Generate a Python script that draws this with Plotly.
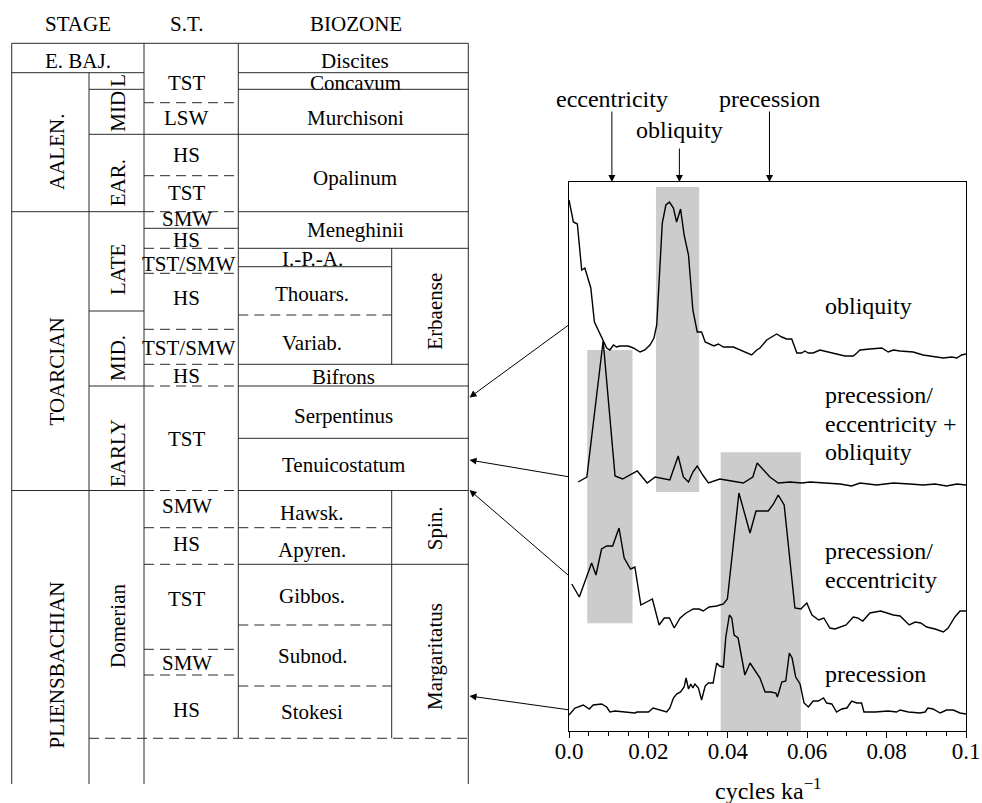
import plotly.graph_objects as go

FONT = "Liberation Serif, Times New Roman, serif"

# ---------------- spectral data (frequency in cycles/ka, relative power) ----------------
f_obl = [0.0000, 0.0011, 0.0021, 0.0032, 0.0040, 0.0055, 0.0064, 0.0074, 0.0086, 0.0095,
         0.0103, 0.0112, 0.0120, 0.0128, 0.0149, 0.0162, 0.0179, 0.0191, 0.0204, 0.0214,
         0.0221, 0.0229, 0.0235, 0.0244, 0.0253, 0.0263, 0.0271, 0.0281, 0.0290, 0.0301,
         0.0312, 0.0323, 0.0334, 0.0343, 0.0353, 0.0365, 0.0376, 0.0389, 0.0414, 0.0435,
         0.0448, 0.0460, 0.0473, 0.0481, 0.0498, 0.0523, 0.0536, 0.0548, 0.0561, 0.0574,
         0.0586, 0.0594, 0.0603, 0.0615, 0.0632, 0.0657, 0.0674, 0.0695, 0.0716, 0.0725,
         0.0733, 0.0758, 0.0788, 0.0804, 0.0817, 0.0834, 0.0867, 0.0892, 0.0914, 0.0930,
         0.0943, 0.0964, 0.0977, 0.0989, 0.1000]
p_obl = [161, 139, 137, 91, 93, 73, 39, 31, 21, 13,
         11, 16, 14, 15, 15, 13, 9, 11, 16, 23,
         36, 91, 138, 156, 159, 153, 139, 152, 126, 106,
         51, 29, 29, 19, 17, 15, 17, 14, 14, 10,
         8, 6, 11, 13, 21, 27, 24, 22, 22, 8,
         8, 10, 8, 8, 11, 9, 7, 5, 5, 8,
         11, 12, 13, 9, 11, 10, 9, 6, 5, 4,
         3, 4, 3, 6, 7]

f_pe_obl = [0.0023, 0.0045, 0.0086, 0.0116, 0.0135, 0.0154, 0.0172, 0.0197, 0.0217, 0.0254,
            0.0275, 0.0288, 0.0301, 0.0312, 0.0323, 0.0337, 0.0351, 0.0380, 0.0439, 0.0463,
            0.0474, 0.0506, 0.0527, 0.0557, 0.0586, 0.0607, 0.0649, 0.0683, 0.0712, 0.0733,
            0.0775, 0.0817, 0.0859, 0.0892, 0.0922, 0.0951, 0.0977, 0.1000]
p_pe_obl = [9, 14, 150, 15, 12, 16, 20, 8, 14, 11,
            35, 14, 9, 19, 25, 16, 8, 12, 8, 14,
            28, 14, 8, 9, 8, 9, 8, 7, 5, 8,
            6, 8, 7, 6, 7, 5, 7, 6]

f_pe = [0.0007, 0.0026, 0.0057, 0.0068, 0.0082, 0.0095, 0.0110, 0.0126, 0.0139, 0.0155,
        0.0166, 0.0181, 0.0210, 0.0227, 0.0240, 0.0253, 0.0265, 0.0280, 0.0295, 0.0313,
        0.0328, 0.0338, 0.0353, 0.0372, 0.0389, 0.0399, 0.0428, 0.0456, 0.0471, 0.0502,
        0.0515, 0.0527, 0.0542, 0.0569, 0.0584, 0.0599, 0.0612, 0.0629, 0.0642, 0.0657,
        0.0670, 0.0698, 0.0716, 0.0727, 0.0740, 0.0758, 0.0785, 0.0817, 0.0834, 0.0857,
        0.0872, 0.0886, 0.0901, 0.0922, 0.0943, 0.0955, 0.0972, 0.0985, 0.1000]
p_pe = [49, 36, 70, 58, 84, 87, 87, 105, 75, 64,
        66, 28, 34, 8, 15, 15, 5, 15, 20, 24,
        24, 22, 26, 27, 29, 34, 140, 100, 122, 122,
        129, 138, 128, 25, 24, 30, 18, 13, 15, 5,
        4, 8, 16, 15, 12, 20, 22, 18, 17, 8,
        11, 10, 6, 4, 1, 5, 16, 22, 22]

f_pre = [0.0000, 0.0015, 0.0036, 0.0051, 0.0061, 0.0082, 0.0095, 0.0103, 0.0116, 0.0137,
         0.0166, 0.0171, 0.0200, 0.0212, 0.0229, 0.0246, 0.0254, 0.0263, 0.0271, 0.0281,
         0.0290, 0.0295, 0.0301, 0.0307, 0.0312, 0.0317, 0.0326, 0.0334, 0.0343, 0.0351,
         0.0363, 0.0372, 0.0379, 0.0389, 0.0395, 0.0404, 0.0410, 0.0416, 0.0426, 0.0431,
         0.0443, 0.0456, 0.0473, 0.0481, 0.0494, 0.0508, 0.0521, 0.0525, 0.0536, 0.0546,
         0.0555, 0.0562, 0.0571, 0.0582, 0.0592, 0.0603, 0.0615, 0.0628, 0.0641, 0.0649,
         0.0662, 0.0674, 0.0687, 0.0700, 0.0712, 0.0725, 0.0737, 0.0743, 0.0771, 0.0804,
         0.0825, 0.0834, 0.0855, 0.0884, 0.0897, 0.0904, 0.0917, 0.0935, 0.0951, 0.0968,
         0.0985, 0.1000]
p_pre = [1, 8, 11, 7, 11, 12, 9, 4, 5, 4,
         3, 4, 4, 8, 6, 4, 8, 18, 22, 24,
         29, 38, 27, 32, 28, 32, 28, 16, 30, 33,
         33, 53, 50, 49, 79, 101, 98, 81, 78, 68,
         41, 53, 43, 38, 24, 24, 23, 19, 34, 35,
         63, 58, 39, 32, 13, 9, 15, 15, 18, 13,
         12, 4, 7, 8, 15, 13, 13, 4, 4, 5,
         4, 6, 4, 3, 4, 8, 7, 3, 6, 6,
         3, 2]

# frequency bands highlighted (cycles/ka)
band_ecc = (0.0046, 0.0160)
band_obl = (0.0219, 0.0328)
band_pre = (0.0382, 0.0584)

# orbital periods marked on top (cycles/ka)
orbital_names = ["eccentricity", "obliquity", "precession"]
orbital_freqs = [0.0108, 0.0278, 0.0505]

tick_vals = [0.0, 0.02, 0.04, 0.06, 0.08, 0.1]
tick_text = ["0.0", "0.02", "0.04", "0.06", "0.08", "0.1"]

# ---------------- stratigraphic table text ----------------
headers = ["STAGE", "S.T.", "BIOZONE"]
stages = ["E. BAJ.", "AALEN.", "TOARCIAN", "PLIENSBACHIAN"]
substages = ["L", "MID", "EAR.", "LATE", "MID.", "EARLY", "Domerian"]
systems_tracts = ["TST", "LSW", "HS", "TST", "SMW", "HS", "TST/SMW", "HS", "TST/SMW", "HS",
                  "TST", "SMW", "HS", "TST", "SMW", "HS"]
biozones = ["Discites", "Concavum", "Murchisoni", "Opalinum", "Meneghinii", "Bifrons",
            "Serpentinus", "Tenuicostatum"]
subzones = ["I.-P.-A.", "Thouars.", "Variab.", "Hawsk.", "Apyren.", "Gibbos.", "Subnod.", "Stokesi"]
zone_groups = ["Erbaense", "Spin.", "Margaritatus"]

# ---------------- layout geometry (pixels) ----------------
W, H = 982, 803
PX0, PX1, PY_TOP, PY_BOT = 569, 966, 182, 731
offsets = [370, 240, 98, 15]   # vertical stacking of spectra (plot units)

XL, XS, XT, XB, XE, XR = 11.7, 89, 144, 238.3, 391.7, 468.3

stage_pos = [(77.5, 60.8, 0), (56.5, 152.5, -90), (56.5, 372, -90), (56.5, 665, -90)]
substage_pos = [(118, 80.7), (118, 111.7), (118, 183.3), (118, 270), (118, 358), (118, 453), (118, 626)]
st_y = [83, 118, 154.5, 193, 218.7, 239.5, 264, 297.8, 347.5, 376.3, 439.3, 506, 544.3, 598.8, 662.7, 710]
bz_pos = [(355, 60.8), (355, 83), (355, 118), (355, 178.3), (355, 230.3), (343, 376.7), (343, 416), (343, 465.3)]
sub_y = [259, 294, 343.3, 512.7, 550, 595.5, 656.3, 712]
grp_y = [311.7, 528.3, 657]

solid_h = [(XL, XR, 43.3), (XL, XT, 72.7), (XB, XR, 72.7), (XS, XT, 89.3), (XB, XR, 89.3),
           (XS, XR, 134.3), (XL, XT, 211.7), (XB, XR, 211.7), (XT, XB, 228.3), (XB, XR, 248.3),
           (XB, XE, 266.7), (XS, XT, 311), (XB, XR, 364.3), (XS, XT, 386), (XB, XR, 386),
           (XB, XR, 438.3), (XL, XT, 490.5), (XB, XR, 490.5), (XB, XR, 564.3)]
dashed_h = [(XT, XB, 102.7), (XT, XB, 175.7), (XT, XB, 211.7), (XT, XB, 248.3), (XT, XB, 273.3),
            (XB, XE, 315), (XT, XB, 329.3), (XT, XB, 364.3), (XT, XB, 386), (XT, XB, 490.5),
            (XT, XB, 527.7), (XB, XE, 527.7), (XT, XB, 564.3), (XB, XE, 625), (XT, XB, 649.3),
            (XT, XB, 675), (XB, XE, 686), (XS, XR, 738.3)]
verticals = [(XL, 43.3, 784), (XS, 72.7, 784), (XT, 43.3, 784), (XB, 43.3, 738.3),
             (XE, 248.3, 364.3), (XE, 490.5, 738.3), (XR, 43.3, 784)]

link_arrows = [((570, 324), (469.5, 397.5)), ((570, 477), (469.5, 460)),
               ((570, 576.7), (469.5, 490)), ((570, 710), (469.5, 696))]

fig = go.Figure()

for f, p, off in zip([f_obl, f_pe_obl, f_pe, f_pre], [p_obl, p_pe_obl, p_pe, p_pre], offsets):
    fig.add_trace(go.Scatter(x=f, y=[v + off for v in p], mode="lines",
                             line=dict(color="black", width=1.4),
                             hoverinfo="skip", showlegend=False, xaxis="x", yaxis="y"))
# anchor trace for the pixel overlay axes
fig.add_trace(go.Scatter(x=[0], y=[0], mode="markers", marker=dict(opacity=0),
                         hoverinfo="skip", showlegend=False, xaxis="x2", yaxis="y2"))

shapes = []
band_heights = [(107.7, 381), (239, 544), (0, 278.7)]
for (b0, b1), (y0, y1) in zip([band_ecc, band_obl, band_pre], band_heights):
    shapes.append(dict(type="rect", xref="x", yref="y", x0=b0, x1=b1, y0=y0, y1=y1,
                       fillcolor="#cccccc", line=dict(width=0), layer="below"))

LC = "#2a2a2a"
for x0, x1, y in solid_h:
    shapes.append(dict(type="line", xref="x2", yref="y2", x0=x0, x1=x1, y0=y, y1=y,
                       line=dict(color=LC, width=1)))
for x0, x1, y in dashed_h:
    shapes.append(dict(type="line", xref="x2", yref="y2", x0=x0, x1=x1, y0=y, y1=y,
                       line=dict(color=LC, width=1, dash="10px,6px")))
for x, y0, y1 in verticals:
    shapes.append(dict(type="line", xref="x2", yref="y2", x0=x, x1=x, y0=y0, y1=y1,
                       line=dict(color=LC, width=1)))

ann = []


def T(x, y, s, angle=0, size=21, xanchor="center"):
    ann.append(dict(x=x, y=y, xref="x2", yref="y2", text=s, showarrow=False, textangle=angle,
                    xanchor=xanchor, yanchor="middle",
                    font=dict(family=FONT, size=size, color="black")))


for s, x in zip(headers, [77.5, 186, 356]):
    T(x, 24, s)
for s, (x, y, a) in zip(stages, stage_pos):
    T(x, y, s, a)
for s, (x, y) in zip(substages, substage_pos):
    T(x, y, s, -90)
for s, y in zip(systems_tracts, st_y):
    T(189 if "/" in s else 186.5, y, s)
for s, (x, y) in zip(biozones, bz_pos):
    T(x, y, s)
for s, y in zip(subzones, sub_y):
    T(312, y, s)
for s, y in zip(zone_groups, grp_y):
    T(435, y, s, -90)

# labels of spectra
RL = 823.3
T(RL, 306, "obliquity", size=24, xanchor="left")
T(RL, 395.3, "precession/", size=24, xanchor="left")
T(RL, 423.7, "eccentricity +", size=24, xanchor="left")
T(RL, 452, "obliquity", size=24, xanchor="left")
T(RL, 551, "precession/", size=24, xanchor="left")
T(RL, 580, "eccentricity", size=24, xanchor="left")
T(RL, 673.7, "precession", size=24, xanchor="left")
T((PX0 + PX1) / 2, 789, "cycles ka<sup>\u22121</sup>", size=24)

# orbital labels & arrows on top
top_label_y = [99, 129.5, 99]
top_tail_y = [110, 147, 110]
for name, fr, ly, ty in zip(orbital_names, orbital_freqs, top_label_y, top_tail_y):
    ann.append(dict(x=fr, y=ly, xref="x", yref="y2", text=name, showarrow=False,
                    xanchor="center", yanchor="middle",
                    font=dict(family=FONT, size=24, color="black")))
    ann.append(dict(x=fr, y=PY_TOP, xref="x", yref="y2", ax=fr, ay=ty, axref="x", ayref="y2",
                    text="", showarrow=True, arrowhead=2, arrowsize=1.4, arrowwidth=1,
                    arrowcolor="black"))

for (tx, ty), (hx, hy) in link_arrows:
    ann.append(dict(x=hx, y=hy, xref="x2", yref="y2", ax=tx, ay=ty, axref="x2", ayref="y2",
                    text="", showarrow=True, arrowhead=2, arrowsize=1.4, arrowwidth=1,
                    arrowcolor="black"))

fig.update_layout(
    template="none",
    width=W, height=H, margin=dict(l=0, r=0, t=0, b=0, pad=0, autoexpand=False),
    paper_bgcolor="white", plot_bgcolor="rgba(0,0,0,0)",
    showlegend=False, shapes=shapes, annotations=ann,
    xaxis=dict(domain=[PX0 / W, PX1 / W], range=[0, 0.1], anchor="y", automargin=False,
               showline=True, mirror=True, linecolor="black", linewidth=1,
               ticks="outside", ticklen=6, tickwidth=1, tickcolor="black",
               tickvals=tick_vals, ticktext=tick_text, ticklabelstandoff=-7,
               tickfont=dict(family=FONT, size=23, color="black"),
               minor=dict(dtick=0.005, tick0=0, ticks="outside", ticklen=4, tickcolor="black",
                          showgrid=False),
               showgrid=False, zeroline=False, fixedrange=True),
    yaxis=dict(domain=[(H - PY_BOT) / H, (H - PY_TOP) / H], range=[0, PY_BOT - PY_TOP],
               anchor="x", automargin=False,
               showline=True, mirror=True, linecolor="black", linewidth=1,
               ticks="", showticklabels=False, showgrid=False, zeroline=False, fixedrange=True),
    xaxis2=dict(domain=[0, 1], range=[0, W], anchor="y2", visible=False, fixedrange=True,
                automargin=False),
    yaxis2=dict(domain=[0, 1], range=[H, 0], anchor="x2", visible=False, fixedrange=True,
                automargin=False),
)

fig.write_html("out.html", config={"displayModeBar": False},
               post_script="document.body.style.margin='0';document.body.style.overflow='hidden';")
